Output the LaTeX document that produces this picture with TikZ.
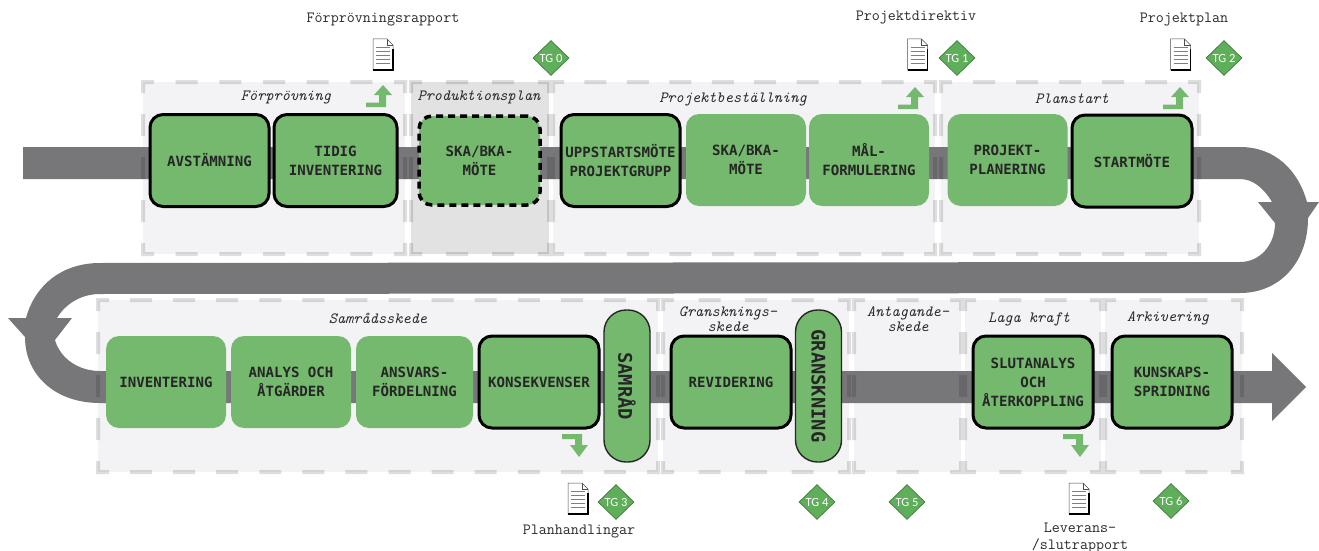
\documentclass[tikz,border=0pt]{standalone}
\usepackage{fontspec}
\usetikzlibrary{shapes.geometric}
\newfontfamily\boxfamily{DejaVu Sans Mono}
\newfontfamily\tgfamily{Carlito}
\definecolor{bandgray}{HTML}{77777A}
\definecolor{phasefill}{HTML}{F3F3F5}
\definecolor{prodfill}{HTML}{E2E2E3}
\definecolor{boxgreen}{HTML}{75B96E}
\definecolor{tggreen}{HTML}{5FAE5A}
\definecolor{labelink}{HTML}{2A2A2A}
\tikzset{
  phase/.style={fill=phasefill},
  phaseedge/.style={draw=black,line width=4pt,line cap=rect},
  stepbox/.style={fill=boxgreen,rounded corners=13pt,minimum width=121pt,minimum height=92pt,inner sep=0pt,
    align=center,font=\boxfamily\bfseries\fontsize{14.1}{19}\selectfont,text=black!85},
  keybox/.style={stepbox,draw=black,line width=3pt},
  dashbox/.style={stepbox,draw=black,line width=3.5pt,dash pattern=on 7pt off 5pt},
  meetbox/.style={fill=boxgreen,draw=black!85,line width=1.4pt,rounded corners=22pt,minimum width=152pt,minimum height=46pt,
    inner sep=0pt,rotate=-90,font=\boxfamily\bfseries\fontsize{18.8}{20}\selectfont,text=black!85},
  phaselabel/.style={font=\ttfamily\itshape\fontsize{15.6}{15}\selectfont,text=labelink,align=center,inner sep=0pt},
  doclabel/.style={font=\ttfamily\fontsize{15.6}{17}\selectfont,text=labelink,align=center,inner sep=0pt},
  tg/.style={diamond,aspect=1,draw=tggreen!70!black,fill=tggreen,line width=.7pt,inner sep=0pt,minimum width=36pt,minimum height=35pt,
    text=white,font=\tgfamily\fontsize{12.5}{12}\selectfont},
  docicon/.pic={
    \draw[fill=white,draw=black!70,line width=.5pt] (0,0) -- (14,0) -- (20,6) -- (20,31) -- (0,31) -- cycle;
    \draw[draw=black!70,line width=.5pt] (14,0) -- (14,6) -- (20,6);
    \draw[line width=1.2pt] (20,10) -- (20,31) -- (0,31);
    \foreach \y in {8,12,...,26} \draw[black!50,line width=.7pt] (3,\y) -- (17,\y);
  },
  turnup/.pic={\fill[boxgreen] (0,17.5) -- (13,17.5) -- (13,10) -- (8,10) -- (17,0) -- (26,10) -- (20,10) -- (20,22) -- (0,22) -- cycle;},
  turndown/.pic={\fill[boxgreen] (0,0) -- (20,0) -- (20,11) -- (26,11) -- (17,23) -- (8,11) -- (13,11) -- (13,5) -- (0,5) -- cycle;}
}
% four dashed sides, a half dash at each corner
\newcommand{\phaseframe}[4]{
  \pgfmathsetmacro{\gapx}{(#3-#1)/round((#3-#1)/43)-18}
  \pgfmathsetmacro{\gapy}{(#4-#2)/round((#4-#2)/43)-18}
  \draw[phaseedge,dash pattern=on 18pt off \gapx pt,dash phase=9pt] (#1,#2) -- (#3,#2);
  \draw[phaseedge,dash pattern=on 18pt off \gapx pt,dash phase=9pt] (#1,#4) -- (#3,#4);
  \draw[phaseedge,dash pattern=on 18pt off \gapy pt,dash phase=9pt] (#1,#2) -- (#1,#4);
  \draw[phaseedge,dash pattern=on 18pt off \gapy pt,dash phase=9pt] (#3,#2) -- (#3,#4);
}
\begin{document}
\begin{tikzpicture}[x=1pt,y=-1pt]
  \useasboundingbox (0,0) rectangle (1319,551);
  % phase backgrounds
  \fill[phase] (143,82) rectangle (405,254);
  \fill[prodfill] (411,82) rectangle (549,254);
  \fill[phase] (553,82) rectangle (935,254);
  \fill[phase] (941,82) rectangle (1199,254);
  \fill[phase] (98,300) rectangle (658,472);
  \fill[phase] (663,300) rectangle (849,472);
  \fill[phase] (854,300) rectangle (961,472);
  \fill[phase] (965,300) rectangle (1101,472);
  \fill[phase] (1105,300) rectangle (1242,472);
  % the band
  \fill[bandgray] (23,147) -- (1240,147) .. controls (1275,147) and (1298,170) .. (1307,202) -- (1319,202) -- (1308,218)
    .. controls (1308,262) and (1280,293) .. (1240,293) -- (100,294) .. controls (82,294) and (66,303) .. (57,318) -- (72,318) -- (55,340)
    .. controls (60,358) and (78,371) .. (100,371) -- (1272,371) -- (1272,353) -- (1306,387) -- (1272,421) -- (1272,403) -- (100,403)
    .. controls (55,403) and (25,375) .. (25,337) -- (8,318) -- (26,318) .. controls (35,285) and (62,263) .. (100,263) -- (1240,262)
    .. controls (1260,262) and (1275,245) .. (1275,223) -- (1258,202) -- (1272,202) .. controls (1263,187) and (1252,179) .. (1240,179) -- (23,179) -- cycle;
  % phase frames
  \begin{scope}[transparency group,opacity=.13]
    \phaseframe{143}{82}{405}{254}
    \phaseframe{411}{82}{549}{254}
    \phaseframe{553}{82}{935}{254}
    \phaseframe{941}{82}{1199}{254}
    \phaseframe{98}{300}{658}{472}
    \phaseframe{663}{300}{849}{472}
    \phaseframe{854}{300}{961}{472}
    \phaseframe{965}{300}{1101}{472}
    \phaseframe{1105}{300}{1242}{472}
  \end{scope}
  % upper row
  \node[keybox,minimum width=119pt] (avstamning) at (209.5,160.5) {AVSTÄMNING};
  \node[keybox,minimum width=123pt] (tidig) at (335.5,160.5) {TIDIG\\INVENTERING};
  \node[dashbox,minimum width=121pt,minimum height=89pt] (skaprod) at (479.5,160.5) {SKA/BKA-\\MÖTE};
  \node[keybox,minimum width=119pt] (uppstart) at (620.5,160.5) {UPPSTARTSMÖTE\\PROJEKTGRUPP};
  \node[stepbox,minimum width=120pt] (skabest) at (746,160) {SKA/BKA-\\MÖTE};
  \node[stepbox,minimum width=120pt] (malform) at (869,160) {MÅL-\\FORMULERING};
  \node[stepbox,minimum width=120pt] (projplan) at (1007.5,160) {PROJEKT-\\PLANERING};
  \node[keybox,minimum width=120pt] (startmote) at (1132,161) {STARTMÖTE};
  % lower row
  \node[stepbox,minimum width=120pt] (inventering) at (166,382) {INVENTERING};
  \node[stepbox,minimum width=120pt] (analys) at (291,382) {ANALYS OCH\\ÅTGÄRDER};
  \node[stepbox,minimum width=117pt] (ansvar) at (414.5,382) {ANSVARS-\\FÖRDELNING};
  \node[keybox,minimum width=120pt] (konsekvenser) at (539,382) {KONSEKVENSER};
  \node[meetbox] (samrad) at (627,386) {SAMRÅD};
  \node[keybox,minimum width=120pt] (revidering) at (731,382) {REVIDERING};
  \node[meetbox] (granskning) at (818.5,386) {GRANSKNING};
  \node[keybox,minimum width=120pt] (slutanalys) at (1033,382) {SLUTANALYS\\OCH\\ÅTERKOPPLING};
  \node[keybox,minimum width=120pt] (kunskap) at (1172,382) {KUNSKAPS-\\SPRIDNING};
  % phase names
  \node[phaselabel] (forprovning) at (286,98) {Förprövning};
  \node[phaselabel] (produktion) at (479,97) {Produktionsplan};
  \node[phaselabel] (bestallning) at (733,99) {Projektbeställning};
  \node[phaselabel] (planstart) at (1072,99) {Planstart};
  \node[phaselabel] (samradsskede) at (378,318) {Samrådsskede};
  \node[phaselabel] (granskskede) at (728,319.5) {Gransknings-\\skede};
  \node[phaselabel] (antagande) at (908,319.5) {Antagande-\\skede};
  \node[phaselabel] (lagakraft) at (1029,319) {Laga kraft};
  \node[phaselabel] (arkivering) at (1168,318) {Arkivering};
  % documents
  \pic at (373,39) {docicon};
  \pic at (907.5,39) {docicon};
  \pic at (1170.5,39) {docicon};
  \pic at (568,483) {docicon};
  \pic at (1069,483) {docicon};
  \node[doclabel] (rapport) at (383,20) {Förprövningsrapport};
  \node[doclabel] (direktiv) at (916,18) {Projektdirektiv};
  \node[doclabel] (projektplan) at (1184,20) {Projektplan};
  \node[doclabel] (handlingar) at (579,532) {Planhandlingar};
  \node[doclabel] (leverans) at (1080,537.5) {Leverans-\\/slutrapport};
  % turn arrows
  \pic at (366,85) {turnup};
  \pic at (898,87) {turnup};
  \pic at (1163,87) {turnup};
  \pic at (562,434) {turndown};
  \pic at (1063,434) {turndown};
  % tollgates
  \node[tg] (tg0) at (551,58) {TG 0};
  \node[tg] (tg1) at (957,58) {TG 1};
  \node[tg] (tg2) at (1224,58) {TG 2};
  \node[tg] (tg3) at (616,502) {TG 3};
  \node[tg] (tg4) at (817,502) {TG 4};
  \node[tg] (tg5) at (907,502) {TG 5};
  \node[tg] (tg6) at (1171,501) {TG 6};
\end{tikzpicture}
\end{document}
